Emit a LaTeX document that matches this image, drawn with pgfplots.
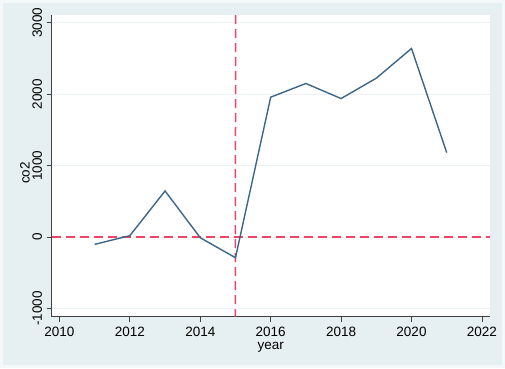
\documentclass[border=0pt]{standalone}
\usepackage{fontspec}
\setmainfont{Liberation Sans}
\usepackage{pgfplots}
\pgfplotsset{compat=1.18}
\definecolor{bgout}{HTML}{F4F8F9}
\definecolor{bgin}{HTML}{E6EFF1}
\definecolor{gridc}{HTML}{EAF2F3}
\definecolor{linec}{HTML}{3B6789}
\definecolor{redc}{HTML}{EE4566}
\definecolor{axc}{HTML}{404040}
\begin{document}
\begin{tikzpicture}[x=1pt,y=1pt]
\fill[bgout] (0,0) rectangle (505,368);
\fill[bgin] (3,3) rectangle (502,365);
\begin{axis}[
  at={(51.7pt,51.3pt)}, anchor=south west,
  scale only axis, width=438.3pt, height=301.7pt,
  xmin=2009.78, xmax=2022.23, ymin=-1116, ymax=3109,
  axis background/.style={fill=white},
  axis x line*=bottom, axis y line*=left,
  axis line style={axc, line width=0.9pt},
  xtick={2010,2012,...,2022}, ytick={-1000,0,1000,2000,3000},
  yticklabels={-1000,0,1000,2000,3000},
  tick style={axc, line width=0.8pt},
  tick align=outside, major tick length=5pt,
  ymajorgrids, major grid style={gridc, line width=1pt},
  /pgf/number format/1000 sep={},
  /pgf/number format/assume math mode=true,
  font=\fontsize{13.5}{15}\selectfont,
  ticklabel style={font=\fontsize{13.5}{15}\selectfont, black},
  yticklabel style={rotate=90, anchor=south, inner sep=4.5pt},
  xticklabel style={anchor=north, inner sep=0pt, yshift=-5.5pt},
  xlabel={year}, ylabel={co2},
  xlabel style={at={(axis description cs:0.5,0)}, anchor=north, yshift=-25pt, inner sep=0pt},
  ylabel style={at={(axis description cs:-0.061,0.476)}, anchor=center, inner sep=0pt},
  clip=false,
]
\addplot[redc, line width=1.4pt, dash pattern=on 9pt off 5pt] coordinates {(2009.78,0) (2022.23,0)};
\addplot[redc, line width=1.5pt, dash pattern=on 9pt off 5pt] coordinates {(2015.003,3109) (2014.997,-1116)};
\addplot[linec, line width=1.4pt, mark=none] coordinates {
(2011,-103) (2012,19) (2013,645) (2014,-10) (2015,-290) (2016,1958)
(2017,2150) (2018,1939) (2019,2224) (2020,2640) (2021,1182)};
\end{axis}
\end{tikzpicture}
\end{document}
